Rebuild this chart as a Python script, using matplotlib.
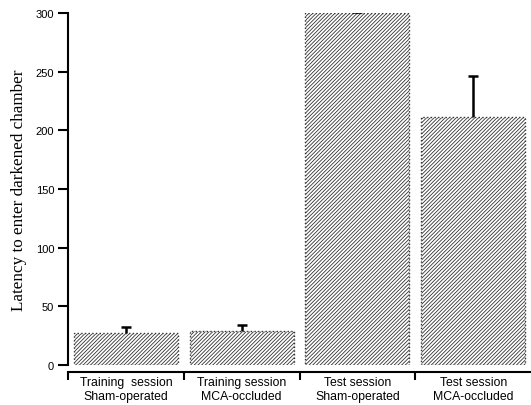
import matplotlib.pyplot as plt
import numpy as np

# values
groups = ['Training  session\nSham-operated', 'Training session\nMCA-occluded',
          'Test session\nSham-operated', 'Test session\nMCA-occluded']
latency = [27, 29, 300, 211]
sem = [5, 5, 0.5, 35]

plt.rcParams['font.family'] = 'Liberation Sans'
plt.rcParams['hatch.linewidth'] = 0.6
plt.rcParams['hatch.color'] = '#7a7a7a'

fig = plt.figure(figsize=(5.31, 4.06), dpi=100)
ax = fig.add_axes([68/531, 40/406, 463/531, 352/406])

x = np.arange(len(groups))
top = np.array(latency) + np.array(sem)
ax.bar(x, latency, width=0.9, color='white', edgecolor='#333333',
       linestyle=':', linewidth=1.0, hatch='/////////', zorder=2)
ax.vlines(x, latency, top, color='black', linewidth=1.8, zorder=3)
ax.plot(x, top, linestyle='none', marker='_', markersize=7,
        markeredgewidth=1.8, color='black', zorder=3)

ax.set_xlim(-0.5, 3.5)
ax.set_ylim(0, 300)
ax.set_yticks([0, 50, 100, 150, 200, 250, 300])

# group boundaries as major ticks, labels under the bars
ax.set_xticks([-0.5, 0.5, 1.5, 2.5])
ax.set_xticklabels([])
ax.set_xticks(x, minor=True)
ax.set_xticklabels(groups, minor=True)
ax.tick_params(axis='x', which='minor', length=0, pad=3, labelsize=8.8)
ax.tick_params(axis='x', which='major', length=6, width=1.5, direction='out')
ax.tick_params(axis='y', length=7, width=1.5, labelsize=8, pad=3)

ax.spines['top'].set_visible(False)
ax.spines['right'].set_visible(False)
ax.spines['left'].set_linewidth(1.5)
ax.spines['bottom'].set_linewidth(1.5)
ax.spines['bottom'].set_position(('outward', 5))

ax.set_ylabel('Latency to enter darkened chamber', fontsize=12.3,
              family='Liberation Serif', labelpad=6)

plt.savefig('out.png', dpi=100)
